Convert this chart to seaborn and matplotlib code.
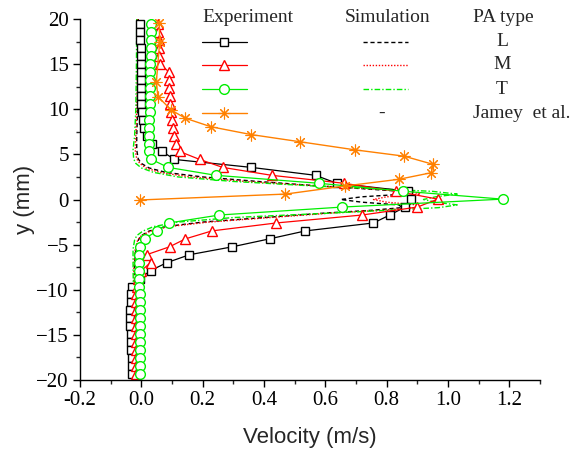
import numpy as np
import pandas as pd
import matplotlib
matplotlib.use("Agg")
import matplotlib.pyplot as plt
from matplotlib.lines import Line2D
from matplotlib.ticker import MultipleLocator, FormatStrFormatter
import seaborn as sns

# Measurement positions across the jet (mm)
y_exp = [19.4, 18.52, 17.64, 16.76, 15.88, 15.0, 14.12, 13.24, 12.36, 11.48,
         10.6, 9.72, 8.84, 7.96, 7.08, 6.2, 5.32, 4.44, 3.56, 2.68,
         1.8, 0.92, 0.04, -0.84, -1.72, -2.6, -3.48, -4.36, -5.24, -6.12,
         -7.0, -7.88, -8.76, -9.64, -10.52, -11.4, -12.28, -13.16, -14.04, -14.92,
         -15.8, -16.68, -17.56, -18.44, -19.32]

# Experimental velocities (m/s) for the three PA types
vel_L = [-0.003, -0.003, -0.003, -0.002, -0.002, -0.002, -0.002, -0.001, -0.001, 0.0,
         0.0, 0.002, 0.005, 0.01, 0.018, 0.035, 0.068, 0.108, 0.358, 0.568,
         0.637, 0.87, 0.88, 0.86, 0.81, 0.757, 0.535, 0.418, 0.297, 0.157,
         0.083, 0.03, -0.005, -0.03, -0.033, -0.035, -0.036, -0.037, -0.036, -0.035,
         -0.034, -0.033, -0.032, -0.031, -0.031]
vel_M = [0.055, 0.055, 0.056, 0.057, 0.058, 0.062, 0.09, 0.09, 0.09, 0.092,
         0.093, 0.096, 0.1, 0.103, 0.108, 0.113, 0.125, 0.19, 0.265, 0.425,
         0.66, 0.83, 0.967, 0.90, 0.72, 0.44, 0.23, 0.144, 0.092, 0.017,
         0.03, 0.0, -0.01, -0.015, -0.016, -0.017, -0.018, -0.018, -0.018, -0.018,
         -0.018, -0.018, -0.018, -0.018, -0.018]
vel_T = [0.03, 0.03, 0.03, 0.03, 0.03, 0.029, 0.029, 0.028, 0.028, 0.028,
         0.027, 0.027, 0.026, 0.025, 0.025, 0.025, 0.026, 0.033, 0.087, 0.243,
         0.578, 0.854, 1.178, 0.654, 0.254, 0.09, 0.051, 0.011, -0.003, -0.006,
         -0.007, -0.007, -0.006, -0.006, -0.005, -0.005, -0.004, -0.004, -0.004, -0.003,
         -0.003, -0.003, -0.003, -0.003, -0.003]

# Jamey et al. half profile
y_jamey = [19.6, 17.5, 13.05, 11.4, 9.9, 9.0, 8.06, 7.2, 6.4,
           5.5, 4.8, 3.9, 2.97, 2.24, 1.5, 0.6, -0.05]
vel_jamey = [0.058, 0.06, 0.049, 0.054, 0.098, 0.144, 0.227, 0.357, 0.517,
             0.697, 0.857, 0.951, 0.946, 0.84, 0.665, 0.47, -0.003]

# Simulated profiles
y_sim = [20, 15, 10, 7, 5.5, 4.5, 4, 3.5, 3, 2.5, 2, 1.5, 1.2, 0.9, 0.6, 0.3, 0,
         -0.3, -0.6, -0.9, -1.2, -1.5, -2, -2.5, -3, -3.5, -4, -4.5, -5.5, -7, -10, -15, -20]
sim_L = [-0.01, -0.01, -0.012, -0.015, -0.015, -0.01, 0.0, 0.025, 0.08, 0.2, 0.38, 0.58, 0.72, 0.85, 0.86, 0.72, 0.65,
         0.72, 0.84, 0.85, 0.75, 0.6, 0.4, 0.2, 0.08, 0.025, 0.0, -0.01, -0.018, -0.022, -0.022, -0.02, -0.02]
sim_M = [-0.012, -0.012, -0.015, -0.018, -0.02, -0.015, -0.005, 0.015, 0.06, 0.16, 0.34, 0.58, 0.74, 0.88, 0.91, 0.8, 0.757,
         0.8, 0.9, 0.89, 0.78, 0.62, 0.42, 0.22, 0.09, 0.03, 0.0, -0.012, -0.02, -0.024, -0.025, -0.024, -0.024]
sim_T = [-0.015, -0.016, -0.018, -0.022, -0.027, -0.025, -0.018, 0.0, 0.04, 0.12, 0.3, 0.56, 0.76, 0.95, 1.03, 0.96, 0.92,
         0.96, 1.03, 0.97, 0.8, 0.62, 0.3, 0.12, 0.04, 0.005, -0.015, -0.022, -0.027, -0.027, -0.026, -0.025, -0.025]

pa_types = ["L", "M", "T"]
exp_colors = {"L": "#000000", "M": "#ff0000", "T": "#00ee00"}
exp_markers = {"L": "s", "M": "^", "T": "o"}
exp_msize = {"L": 6, "M": 7.5, "T": 7}
sim_styles = {"L": (0, (3, 2)), "M": (0, (1, 1.2)), "T": (0, (4, 1.5, 1, 1.5))}
jamey_color = "#ff8000"
star = (8, 2, 0)

sns.set_theme(style="ticks")
plt.rcParams["font.family"] = ["Liberation Serif", "DejaVu Sans"]

fig = plt.figure(figsize=(5.72, 4.55), dpi=100)
ax = fig.add_axes([80 / 572, 1 - 380 / 455, 460 / 572, 361 / 455])

exp_vals = {"L": vel_L, "M": vel_M, "T": vel_T}
sim_vals = {"L": sim_L, "M": sim_M, "T": sim_T}

for t in pa_types:
    sns.lineplot(x=sim_vals[t], y=y_sim, sort=False, estimator=None, ax=ax,
                 color=exp_colors[t], lw=1.0, linestyle=sim_styles[t])

for t in pa_types:
    sns.lineplot(x=exp_vals[t], y=y_exp, sort=False, estimator=None, ax=ax,
                 color=exp_colors[t], lw=0.9, marker=exp_markers[t],
                 markersize=exp_msize[t], markerfacecolor="white",
                 markeredgecolor=exp_colors[t], markeredgewidth=1.0)

sns.lineplot(x=vel_jamey, y=y_jamey, sort=False, estimator=None, ax=ax,
             color=jamey_color, lw=1.0, marker=star, markersize=8.5,
             markeredgecolor=jamey_color, markeredgewidth=0.8)

ax.set_xlim(-0.2, 1.3)
ax.set_ylim(-20, 20)
ax.xaxis.set_major_locator(MultipleLocator(0.2))
ax.xaxis.set_minor_locator(MultipleLocator(0.1))
ax.yaxis.set_major_locator(MultipleLocator(5))
ax.yaxis.set_minor_locator(MultipleLocator(2.5))
ax.xaxis.set_major_formatter(FormatStrFormatter("%.1f"))
ax.tick_params(which="major", direction="out", length=5, width=1, labelsize=15, colors="black", pad=3)
ax.tick_params(which="minor", direction="out", length=3, width=1)
for s in ["top", "right"]:
    ax.spines[s].set_visible(False)
for s in ["left", "bottom"]:
    ax.spines[s].set_linewidth(1.0)
    ax.spines[s].set_color("black")

ax.set_xlabel("Velocity (m/s)", family="Liberation Sans", fontsize=16, labelpad=12)
ax.set_ylabel("y (mm)", family="Liberation Sans", fontsize=16, labelpad=1)

# Table-style legend placed in figure pixels
def fx(px):
    return px / 572

def fy(py):
    return 1 - py / 455

legend_fs = 14
fig.text(fx(202), fy(17), "Experiment", fontsize=legend_fs, va="center", ha="left")
fig.text(fx(345), fy(17), "Simulation", fontsize=legend_fs, va="center", ha="left")
fig.text(fx(473), fy(17), "PA type", fontsize=legend_fs, va="center", ha="left")

rows_y = [41.7, 65, 89.3, 113.3]
for i, t in enumerate(pa_types):
    yy = fy(rows_y[i])
    fig.add_artist(Line2D([fx(202), fx(247)], [yy, yy], color=exp_colors[t], lw=0.9))
    fig.add_artist(Line2D([fx(223.5)], [yy], marker=exp_markers[t], markersize=exp_msize[t],
                          markerfacecolor="white", markeredgecolor=exp_colors[t],
                          markeredgewidth=1.0, linestyle="none"))
    fig.add_artist(Line2D([fx(363), fx(408)], [yy, yy], color=exp_colors[t], lw=1.0,
                          linestyle=sim_styles[t]))
    fig.text(fx(502), yy, t, fontsize=legend_fs, va="center", ha="center")

yy = fy(rows_y[3])
fig.add_artist(Line2D([fx(202), fx(247)], [yy, yy], color=jamey_color, lw=1.0))
fig.add_artist(Line2D([fx(223.5)], [yy], marker=star, markersize=8.5,
                      markeredgecolor=jamey_color, markeredgewidth=0.8, linestyle="none"))
fig.text(fx(382), yy, "-", fontsize=legend_fs, va="center", ha="center")
fig.text(fx(473), yy, "Jamey  et al.", fontsize=legend_fs, va="center", ha="left")

fig.savefig("out.png", dpi=100)
